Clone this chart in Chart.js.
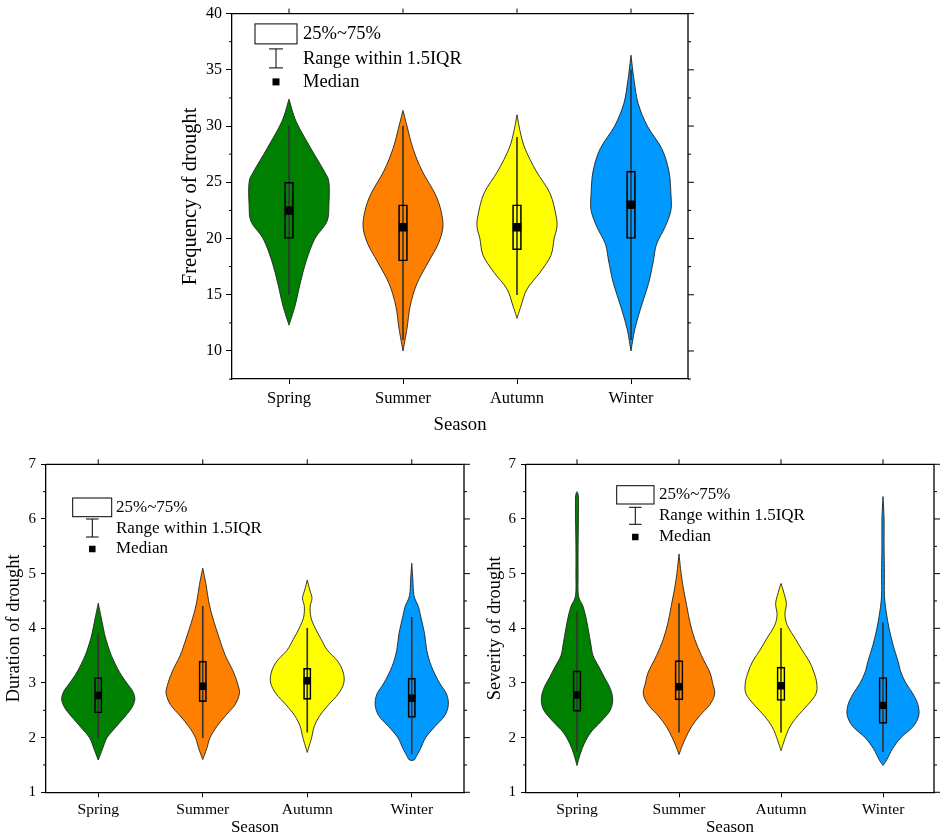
<!DOCTYPE html>
<html>
<head>
<meta charset="utf-8">
<script src="https://cdn.jsdelivr.net/npm/chart.js@4.4.0/dist/chart.umd.min.js"></script>
<style>
body{margin:0;background:#fff;width:941px;height:840px;position:relative;overflow:hidden}
canvas{position:absolute}
</style>
</head>
<body>
<canvas id="freqChart"></canvas>
<canvas id="durChart"></canvas>
<canvas id="sevChart"></canvas>
<script>
const seasons = ['Spring', 'Summer', 'Autumn', 'Winter'];
const violinColors = ['#008000', '#ff8000', '#ffff00', '#0099ff'];
const legendLabels = ['25%~75%', 'Range within 1.5IQR', 'Median'];

// frequency of drought
const freqTicks = [10, 15, 20, 25, 30, 35, 40];
const freqQ1 = [20, 18, 19, 20];
const freqQ3 = [25, 23, 23, 26];
const freqMedian = [22.5, 21, 21, 23];
const freqLow = [15, 11, 15, 11];
const freqHigh = [30, 30, 29, 35];
const freqLevels = [
  [32.4, 30.4, 28, 26, 25, 23, 21.5, 20, 18, 16, 14, 12.3],
  [31.4, 30, 28, 26, 24, 22.5, 21, 19.5, 18, 16, 14, 12, 10],
  [31.0, 29.5, 28, 26, 24, 22, 21, 20, 18.5, 17, 15.5, 14, 12.9],
  [36.3, 34, 32, 30, 28, 26, 24, 22.5, 21, 19.5, 18, 16, 14, 12, 10]
];
const freqDensity = [
  [0, .18, .55, .88, 1, 1, .95, .65, .43, .28, .15, 0],
  [0, .1, .25, .48, .8, .95, 1, .88, .65, .35, .18, .1, 0],
  [0, .08, .2, .48, .83, .98, 1, .93, .85, .58, .25, .1, 0],
  [0, .08, .18, .41, .77, .95, 1, 1, .85, .64, .56, .44, .26, .1, 0]
];

// duration of drought
const durTicks = [1, 2, 3, 4, 5, 6, 7];
const durQ1 = [2.45, 2.66, 2.70, 2.37];
const durQ3 = [3.10, 3.40, 3.27, 3.09];
const durMedian = [2.77, 2.94, 3.04, 2.72];
const durLow = [2.0, 2.0, 2.1, 1.7];
const durHigh = [3.9, 4.4, 4.0, 4.2];
const durLevels = [
  [4.46, 4.2, 4.0, 3.8, 3.5, 3.2, 3.0, 2.85, 2.7, 2.55, 2.4, 2.2, 2.0, 1.8, 1.59],
  [5.1, 4.8, 4.5, 4.2, 3.8, 3.5, 3.2, 2.95, 2.8, 2.6, 2.4, 2.2, 2.0, 1.8, 1.6],
  [4.88, 4.7, 4.55, 4.4, 4.2, 4.0, 3.8, 3.6, 3.4, 3.2, 3.0, 2.8, 2.6, 2.4, 2.2, 2.0, 1.73],
  [5.19, 4.9, 4.6, 4.4, 4.2, 3.9, 3.6, 3.3, 3.0, 2.8, 2.6, 2.4, 2.2, 2.0, 1.8, 1.65, 1.6, 1.58]
];
const durDensity = [
  [0, .08, .14, .21, .36, .58, .78, .94, 1, .92, .75, .49, .24, .12, 0],
  [0, .09, .16, .27, .46, .62, .84, .97, 1, .88, .62, .38, .2, .11, 0],
  [0, .07, .13, .08, .1, .22, .38, .55, .83, .98, 1, .85, .58, .34, .19, .12, 0],
  [0, .03, .06, .18, .25, .35, .41, .54, .76, .95, 1, .9, .63, .38, .24, .12, .08, 0]
];

// severity of drought
const sevTicks = [1, 2, 3, 4, 5, 6, 7];
const sevQ1 = [2.48, 2.69, 2.68, 2.26];
const sevQ3 = [3.22, 3.41, 3.29, 3.10];
const sevMedian = [2.78, 2.93, 2.95, 2.59];
const sevLow = [1.75, 2.1, 2.1, 1.75];
const sevHigh = [4.3, 4.45, 4.0, 4.1];
const sevLevels = [
  [6.5, 6.4, 6.0, 5.5, 5.0, 4.6, 4.4, 4.2, 4.0, 3.7, 3.5, 3.3, 3.1, 2.9, 2.7, 2.5, 2.3, 2.1, 1.9, 1.7, 1.49],
  [5.36, 5.0, 4.7, 4.4, 4.1, 3.8, 3.5, 3.2, 3.0, 2.8, 2.6, 2.4, 2.2, 2.0, 1.85, 1.69],
  [4.82, 4.65, 4.45, 4.25, 4.05, 3.8, 3.6, 3.4, 3.2, 3.0, 2.8, 2.6, 2.4, 2.2, 2.0, 1.76],
  [6.41, 6.0, 5.5, 5.0, 4.6, 4.3, 4.0, 3.7, 3.4, 3.2, 3.0, 2.8, 2.6, 2.4, 2.2, 2.0, 1.8, 1.6, 1.49]
];
const sevDensity = [
  [0, .04, .04, .03, .03, .04, .17, .25, .31, .39, .45, .61, .77, .93, 1, .93, .68, .39, .21, .09, 0],
  [0, .06, .13, .22, .31, .44, .63, .86, .94, 1, .86, .58, .35, .19, .09, 0],
  [0, .08, .15, .11, .18, .41, .59, .79, .92, 1, .98, .75, .47, .25, .12, 0],
  [0, .03, .03, .04, .04, .09, .17, .28, .42, .5, .64, .84, .98, 1, .84, .5, .27, .11, 0]
];

Chart.defaults.font.family = "'Liberation Serif', 'Times New Roman', serif";
Chart.defaults.color = '#000';

// smooth open curve through points (catmull-rom)
function curveThrough(ctx, pts) {
  for (let i = 0; i < pts.length - 1; i++) {
    const p0 = pts[i - 1] || pts[i], p1 = pts[i], p2 = pts[i + 1], p3 = pts[i + 2] || pts[i + 1];
    ctx.bezierCurveTo(
      p1[0] + (p2[0] - p0[0]) / 6, p1[1] + (p2[1] - p0[1]) / 6,
      p2[0] - (p3[0] - p1[0]) / 6, p2[1] - (p3[1] - p1[1]) / 6,
      p2[0], p2[1]);
  }
}

function makeDecor(o) {
  return {
    id: 'decor',
    beforeDatasetsDraw(chart) {
      const {ctx, scales: {x, y}} = chart;
      ctx.save();
      o.levels.forEach((lv, i) => {
        const right = lv.map((v, k) => [x.getPixelForValue(i + o.density[i][k] * 0.35), y.getPixelForValue(v)]);
        const left = lv.map((v, k) => [x.getPixelForValue(i - o.density[i][k] * 0.35), y.getPixelForValue(v)]);
        ctx.beginPath();
        ctx.moveTo(right[0][0], right[0][1]);
        curveThrough(ctx, right);
        curveThrough(ctx, left.slice().reverse());
        ctx.closePath();
        ctx.fillStyle = violinColors[i];
        ctx.fill();
        ctx.strokeStyle = '#222';
        ctx.lineWidth = 0.9;
        ctx.stroke();
      });
      ctx.restore();
    },
    afterDraw(chart) {
      const {ctx, chartArea: ca, scales: {x, y}} = chart;
      ctx.save();
      ctx.strokeStyle = '#000';
      ctx.lineWidth = 1.3;
      ctx.beginPath();
      ctx.moveTo(ca.left, ca.top); ctx.lineTo(ca.right, ca.top); ctx.lineTo(ca.right, ca.bottom);
      ctx.stroke();
      ctx.lineWidth = 1;
      ctx.beginPath();
      // top ticks at categories
      seasons.forEach((s, i) => {
        const px = x.getPixelForValue(i);
        ctx.moveTo(px, ca.top); ctx.lineTo(px, ca.top - 5);
      });
      // right ticks, major and minor; left minor ticks
      const t = o.ticks, step = t[1] - t[0];
      t.forEach(v => {
        const py = y.getPixelForValue(v);
        ctx.moveTo(ca.right, py); ctx.lineTo(ca.right + 6, py);
      });
      const minors = [t[0] - step / 2].concat(t.slice(0, -1).map(v => v + step / 2));
      minors.forEach(v => {
        if (v < y.min) return;
        const py = y.getPixelForValue(v);
        ctx.moveTo(ca.right, py); ctx.lineTo(ca.right + 3, py);
        ctx.moveTo(ca.left, py); ctx.lineTo(ca.left - 3, py);
      });
      ctx.stroke();

      // legend
      const L = o.legend;
      ctx.lineWidth = 1;
      ctx.strokeRect(ca.left + L.boxX, ca.top + L.boxY, L.boxW, L.boxH);
      const wx = ca.left + L.markX;
      ctx.beginPath();
      ctx.moveTo(wx, ca.top + L.whTop); ctx.lineTo(wx, ca.top + L.whBot);
      ctx.moveTo(wx - L.cap, ca.top + L.whTop); ctx.lineTo(wx + L.cap, ca.top + L.whTop);
      ctx.moveTo(wx - L.cap, ca.top + L.whBot); ctx.lineTo(wx + L.cap, ca.top + L.whBot);
      ctx.stroke();
      ctx.fillStyle = '#000';
      ctx.fillRect(wx - L.sq / 2, ca.top + L.rows[2] - L.sq / 2, L.sq, L.sq);
      ctx.font = L.font + "px 'Liberation Serif', serif";
      ctx.textBaseline = 'middle';
      ctx.textAlign = 'left';
      legendLabels.forEach((s, k) => ctx.fillText(s, ca.left + L.textX, ca.top + L.rows[k]));
      ctx.restore();
    }
  };
}

function makePanel(id, o) {
  const cv = document.getElementById(id);
  cv.width = o.w; cv.height = o.h;
  cv.style.left = o.x + 'px'; cv.style.top = o.y + 'px';
  cv.style.width = o.w + 'px'; cv.style.height = o.h + 'px';

  const q = o.q1.map((v, i) => [v, o.q3[i]]);
  const whisk = o.low.map((v, i) => [v, o.high[i]]);

  return new Chart(cv, {
    type: 'bar',
    data: {
      labels: seasons,
      datasets: [{
        type: 'line',
        data: o.median,
        showLine: false,
        pointStyle: 'rect',
        pointRadius: o.medR,
        pointBackgroundColor: '#000',
        pointBorderWidth: 0
      }, {
        data: q,
        grouped: false,
        barThickness: o.boxW,
        backgroundColor: 'rgba(0,0,0,0)',
        borderColor: '#000',
        borderWidth: 1,
        borderSkipped: false
      }, {
        data: whisk,
        grouped: false,
        barThickness: 1,
        backgroundColor: '#333',
        borderWidth: 0
      }]
    },
    options: {
      responsive: false,
      animation: false,
      events: [],
      layout: {padding: {left: 0, top: o.padTop, right: o.padRight, bottom: 0}},
      plugins: {legend: {display: false}, tooltip: {enabled: false}},
      scales: {
        x: {
          offset: true,
          grid: {drawOnChartArea: false, offset: false, tickLength: 5, color: '#000'},
          border: {color: '#000', width: 1.3},
          ticks: {font: {size: o.xTickSize}, padding: o.xTickPad, color: '#000'},
          title: {display: true, text: 'Season', font: {size: o.xTitleSize}, padding: 0, color: '#000'},
          afterFit(s) { s.height = o.xH; }
        },
        y: {
          min: o.min,
          max: o.max,
          grid: {drawOnChartArea: false, tickLength: o.yTickLen, color: '#000'},
          border: {color: '#000', width: 1.3},
          ticks: {font: {size: o.yTickSize}, padding: o.yTickPad, color: '#000'},
          afterBuildTicks(s) { s.ticks = o.ticks.map(v => ({value: v})); },
          title: {display: true, text: o.yTitle, font: {size: o.yTitleSize}, padding: 0, color: '#000'},
          afterFit(s) { s.width = o.yW; }
        }
      }
    },
    plugins: [makeDecor(o)]
  });
}

makePanel('freqChart', {
  x: 178, y: 0, w: 522, h: 436, padTop: 12.7, padRight: 12, xH: 56.9, yW: 54,
  min: 7.5, max: 40, ticks: freqTicks, yTitle: 'Frequency of drought',
  q1: freqQ1, q3: freqQ3, median: freqMedian, low: freqLow, high: freqHigh,
  levels: freqLevels, density: freqDensity,
  medR: 6, boxW: 9,
  xTickSize: 16.5, xTickPad: 5, xTitleSize: 18.7, yTickSize: 16, yTickPad: 4, yTickLen: 6, yTitleSize: 20.5,
  legend: {boxX: 23, boxY: 10.3, boxW: 42, boxH: 20, textX: 71, rows: [20.3, 45.3, 68.3],
           markX: 44, whTop: 35.3, whBot: 54.3, cap: 7, sq: 7, font: 18.5}
});

makePanel('durChart', {
  x: 3, y: 450, w: 471, h: 388, padTop: 14.3, padRight: 10, xH: 45.7, yW: 43,
  min: 1, max: 7, ticks: durTicks, yTitle: 'Duration of drought',
  q1: durQ1, q3: durQ3, median: durMedian, low: durLow, high: durHigh,
  levels: durLevels, density: durDensity,
  medR: 5.2, boxW: 7.5,
  xTickSize: 15.6, xTickPad: 3, xTitleSize: 17, yTickSize: 15, yTickPad: 5, yTickLen: 5, yTitleSize: 18.5,
  legend: {boxX: 26.7, boxY: 33.7, boxW: 39, boxH: 18.7, textX: 70, rows: [43.7, 64.7, 84.7],
           markX: 46.3, whTop: 54.7, whBot: 72.7, cap: 6.3, sq: 6.5, font: 17}
});

makePanel('sevChart', {
  x: 484, y: 450, w: 457, h: 388, padTop: 14.3, padRight: 7, xH: 45.7, yW: 42,
  min: 1, max: 7, ticks: sevTicks, yTitle: 'Severity of drought',
  q1: sevQ1, q3: sevQ3, median: sevMedian, low: sevLow, high: sevHigh,
  levels: sevLevels, density: sevDensity,
  medR: 5.2, boxW: 8,
  xTickSize: 15.6, xTickPad: 3, xTitleSize: 17, yTickSize: 15, yTickPad: 5, yTickLen: 5, yTitleSize: 18.5,
  legend: {boxX: 90.7, boxY: 21.4, boxW: 37.3, boxH: 18.3, textX: 133, rows: [30.7, 51.7, 72.7],
           markX: 109.3, whTop: 43, whBot: 60, cap: 6.3, sq: 6.5, font: 17}
});
</script>
</body>
</html>
